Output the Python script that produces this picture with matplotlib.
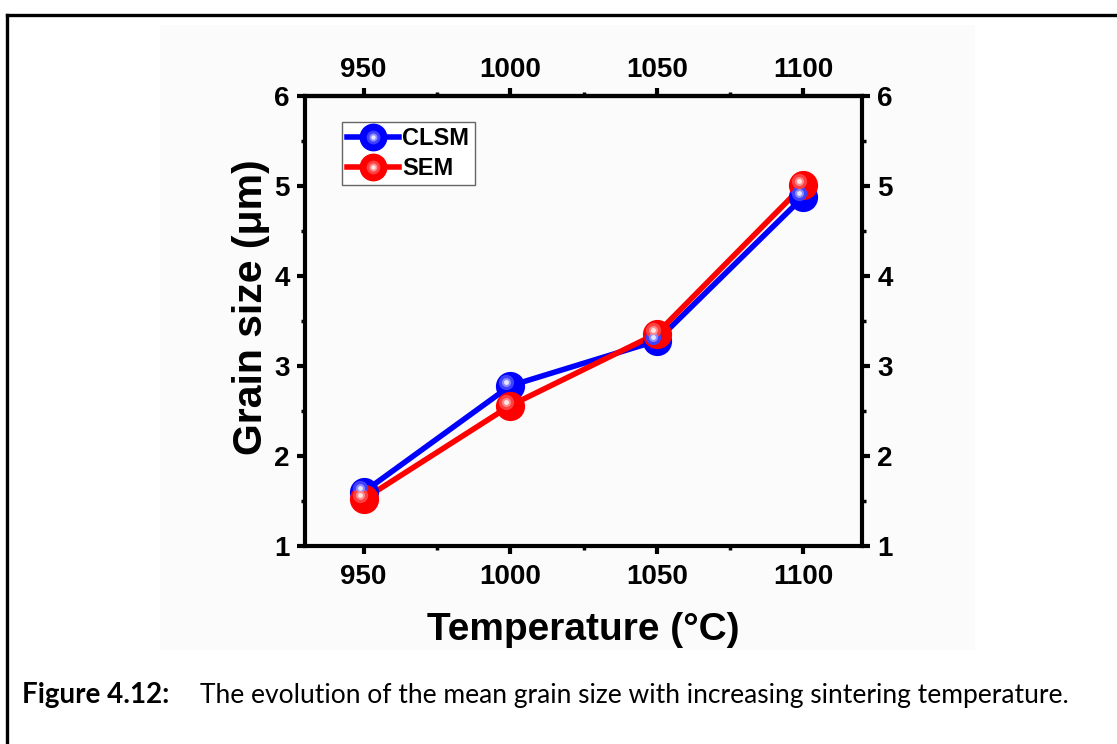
import matplotlib
matplotlib.use("Agg")
import matplotlib.pyplot as plt
from matplotlib.lines import Line2D
from matplotlib.patches import Rectangle
from matplotlib.legend_handler import HandlerTuple
import matplotlib.transforms as mtransforms

temperature = [950, 1000, 1050, 1100]
clsm = [1.60, 2.78, 3.28, 4.88]
sem = [1.52, 2.56, 3.36, 5.01]
tick_temps = [950, 1000, 1050, 1100]
tick_sizes = [1, 2, 3, 4, 5, 6]
minor_temps = [975, 1025, 1075]
minor_sizes = [1.5, 2.5, 3.5, 4.5, 5.5]

plt.rcParams['font.family'] = ['Liberation Sans', 'DejaVu Sans']

fig = plt.figure(figsize=(11.17, 7.44), dpi=100)

# light backdrop behind the chart
fig.patches.append(Rectangle((160 / 1117, 1 - 650 / 744), 815 / 1117, 625 / 744,
                             transform=fig.transFigure, facecolor='#fbfbfb',
                             edgecolor='none', zorder=-5))
# frame around figure and caption
fig.add_artist(Line2D([6.5 / 1117, 6.5 / 1117], [0, 1 - 15 / 744], color='black',
                      lw=2.4, transform=fig.transFigure))
fig.add_artist(Line2D([6.5 / 1117, 1.0], [1 - 15 / 744, 1 - 15 / 744], color='black',
                      lw=2.4, transform=fig.transFigure))

ax = fig.add_axes([305 / 1117, 1 - 546 / 744, 557 / 1117, 450 / 744])
ax.set_facecolor('none')

series = [(clsm, '#0000ff', ['#4040ff', '#8c8cff', '#e6e6ff'], 'CLSM'),
          (sem, '#ff0000', ['#ff4040', '#ff8c8c', '#ffe6e6'], 'SEM')]

handles = []
for vals, base, shades, name in series:
    ax.plot(temperature, vals, color=base, lw=4.0, zorder=3)
    ax.plot(temperature, vals, ls='none', marker='o', ms=20, color=base,
            mec=base, zorder=4)
    hl = []
    for k, (s, c) in enumerate(zip([11, 6.5, 3.5], shades)):
        off = mtransforms.offset_copy(ax.transData, fig=fig, x=-4, y=4, units='dots')
        ax.plot(temperature, vals, ls='none', marker='o', ms=s, color=c, mec='none',
                transform=off, zorder=5 + k)
        hl.append(Line2D([], [], ls='none', marker='o', ms=s * 0.9, color=c, mec='none'))
    main = Line2D([], [], color=base, lw=4.0, marker='o', ms=19, mec=base)
    handles.append((main, *hl))

ax.set_xlim(930, 1120)
ax.set_ylim(1, 6)
ax.set_xticks(tick_temps)
ax.set_yticks(tick_sizes)
ax.set_xticks(minor_temps, minor=True)
ax.set_yticks(minor_sizes, minor=True)

for sp in ax.spines.values():
    sp.set_linewidth(3)

ax.tick_params(which='major', direction='out', length=6, width=3, labelsize=20,
               top=False, right=True, labelright=True)
ax.tick_params(axis='x', which='major', pad=7)
ax.tick_params(axis='y', which='major', pad=5)
ax.tick_params(which='minor', direction='out', length=3, width=2.5,
               top=False, right=True)

# temperature scale repeated along the top edge
top = ax.secondary_xaxis('top')
top.set_xticks(tick_temps)
top.set_xticks(minor_temps, minor=True)
top.spines['top'].set_linewidth(3)
top.tick_params(which='major', direction='out', length=6, width=3, labelsize=20, pad=3)
top.tick_params(which='minor', direction='out', length=3, width=2.5)

for t in ax.xaxis.get_major_ticks() + ax.yaxis.get_major_ticks() + top.xaxis.get_major_ticks():
    t.label1.set_fontweight('bold')
    t.label2.set_fontweight('bold')

ax.set_xlabel('Temperature (°C)', fontsize=28, fontweight='bold', labelpad=16)
ax.set_ylabel('Grain size (μm)', fontsize=29.5, fontweight='bold')
ax.yaxis.set_label_coords(-0.063, 0.53)

leg = ax.legend(handles, ['CLSM', 'SEM'], handler_map={tuple: HandlerTuple(ndivide=1)},
                loc='upper left', bbox_to_anchor=(0.066, 0.943), frameon=True,
                fancybox=False, edgecolor='#666666', framealpha=1, facecolor='white',
                prop={'weight': 'bold', 'size': 17}, handlelength=2.2,
                handletextpad=0.15, borderpad=0.22, labelspacing=0.3,
                borderaxespad=0)
leg.get_frame().set_linewidth(1.0)

fig.text(22 / 1117, 1 - 703 / 744, 'Figure 4.12:', fontsize=20, fontweight='bold',
         family=['Lato', 'DejaVu Sans'], va='baseline', ha='left')
fig.text(200 / 1117, 1 - 703 / 744,
         'The evolution of the mean grain size with increasing sintering temperature.',
         fontsize=19, family=['Lato', 'DejaVu Sans'], va='baseline', ha='left')

fig.savefig('out.png', dpi=100)
